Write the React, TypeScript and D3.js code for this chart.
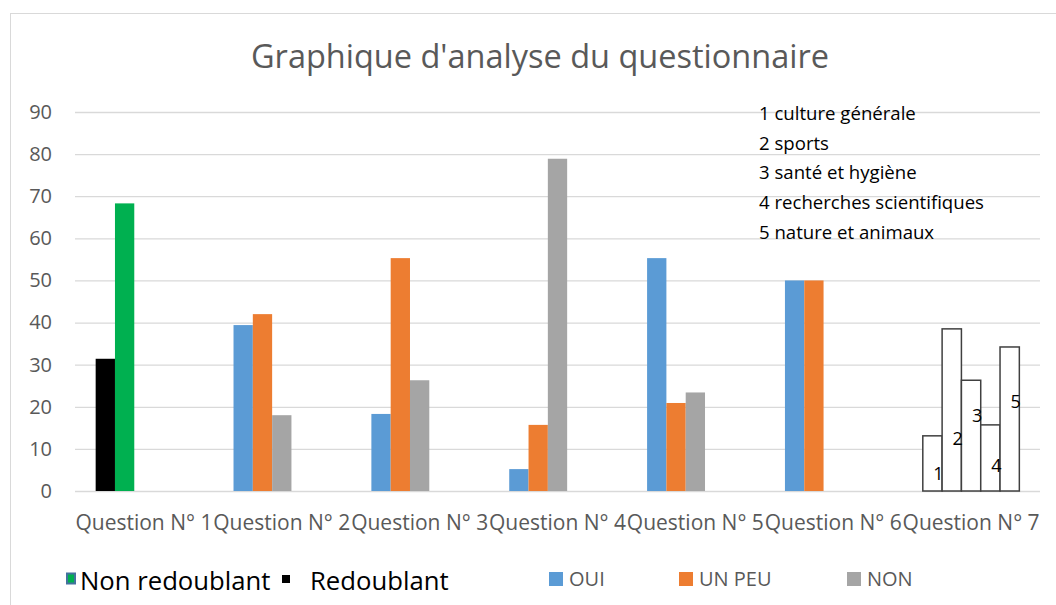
import { useRef, useEffect } from 'react'
import * as d3 from 'd3'

const categories = [
  'Question N° 1',
  'Question N° 2',
  'Question N° 3',
  'Question N° 4',
  'Question N° 5',
  'Question N° 6',
  'Question N° 7',
]

// Question 1: redoublant / non redoublant
const redoublant = [31.4]
const nonRedoublant = [68.3]

// Questions 2 to 6
const ouiValues = [39.4, 18.3, 5.2, 55.3, 50]
const unPeuValues = [42, 55.3, 15.7, 20.9, 50]
const nonValues = [18, 26.3, 78.9, 23.4, null]

// Question 7: themes
const q7Values = [13.1, 38.5, 26.3, 15.7, 34.2]
const q7LabelLevels = [2.6, 10.9, 16.4, 4.5, 19.7]
const q7Themes = [
  '1 culture générale',
  '2 sports',
  '3 santé et hygiène',
  '4 recherches scientifiques',
  '5 nature et animaux',
]

const yTicks = [0, 10, 20, 30, 40, 50, 60, 70, 80, 90]

const FONT = '"Open Sans", sans-serif'
const GREEN = '#00B050'
const BLUE = '#5B9BD5'
const ORANGE = '#ED7D31'
const GRAY = '#A5A5A5'
const TEXT = '#595959'

interface Bar {
  cat: string
  slot: number
  value: number
  fill: string
  stroke?: string
}

export default function App() {
  const svgRef = useRef<SVGSVGElement>(null)

  useEffect(() => {
    if (!svgRef.current) return
    const svg = d3.select(svgRef.current)
    svg.selectAll('*').remove()

    const W = 1056
    const H = 605
    const margin = { top: 112, right: 16, bottom: 114, left: 75 }
    const width = W - margin.left - margin.right
    const height = H - margin.top - margin.bottom

    // chart frame
    svg.append('rect')
      .attr('x', 10.5).attr('y', 13.5)
      .attr('width', W).attr('height', H)
      .attr('fill', '#fff').attr('stroke', '#D9D9D9')

    svg.append('text')
      .attr('x', 540).attr('y', 68)
      .attr('text-anchor', 'middle')
      .attr('font-family', FONT).attr('font-size', 32.5)
      .attr('fill', TEXT)
      .text("Graphique d'analyse du questionnaire")

    const g = svg.append('g').attr('transform', `translate(${margin.left},${margin.top})`)

    const x = d3.scaleBand<string>().domain(categories).range([0, width])
    const slot = d3.scaleBand<number>().domain([0, 1, 2, 3, 4]).range([0, x.bandwidth()]).paddingOuter(1.07)
    const y = d3.scaleLinear().domain([0, 90]).range([height, 0])

    // grid
    g.append('g')
      .call(d3.axisLeft(y).tickValues(yTicks).tickSize(-width).tickFormat(() => ''))
      .call((a) => {
        a.select('.domain').remove()
        a.selectAll('.tick line').attr('stroke', '#D9D9D9').attr('stroke-width', 1.3)
        a.selectAll('.tick text').remove()
      })

    // y labels
    g.append('g')
      .call(d3.axisLeft(y).tickValues(yTicks).tickSize(0).tickPadding(23))
      .call((a) => {
        a.select('.domain').remove()
        a.selectAll('.tick text')
          .attr('fill', TEXT).attr('font-size', 20).attr('font-family', FONT)
      })

    const bars: Bar[] = []
    redoublant.forEach((v) => bars.push({ cat: categories[0], slot: 0, value: v, fill: '#000' }))
    nonRedoublant.forEach((v) => bars.push({ cat: categories[0], slot: 1, value: v, fill: GREEN }))
    ouiValues.forEach((v, i) => bars.push({ cat: categories[i + 1], slot: 0, value: v, fill: BLUE }))
    unPeuValues.forEach((v, i) => bars.push({ cat: categories[i + 1], slot: 1, value: v, fill: ORANGE }))
    nonValues.forEach((v, i) => {
      if (v != null) bars.push({ cat: categories[i + 1], slot: 2, value: v, fill: GRAY })
    })
    q7Values.forEach((v, i) =>
      bars.push({ cat: categories[6], slot: i, value: v, fill: '#fff', stroke: '#404040' }),
    )

    g.selectAll('rect.bar')
      .data(bars)
      .join('rect')
      .attr('class', 'bar')
      .attr('x', (d) => x(d.cat)! + slot(d.slot)!)
      .attr('y', (d) => y(d.value))
      .attr('width', slot.bandwidth())
      .attr('height', (d) => height - y(d.value))
      .attr('fill', (d) => d.fill)
      .attr('stroke', (d) => d.stroke ?? 'none')
      .attr('stroke-width', 1.5)

    // numbers on question 7 bars
    g.selectAll('text.q7')
      .data(q7LabelLevels)
      .join('text')
      .attr('class', 'q7')
      .attr('x', (_, i) => x(categories[6])! + slot(i)! + slot.bandwidth() / 2 + 6)
      .attr('y', (d) => y(d))
      .attr('text-anchor', 'middle')
      .attr('font-family', FONT).attr('font-size', 18)
      .attr('fill', '#000')
      .text((_, i) => String(i + 1))

    // x labels
    g.append('g')
      .attr('transform', `translate(0,${height})`)
      .call(d3.axisBottom(x).tickSize(0).tickPadding(24))
      .call((a) => {
        a.select('.domain').remove()
        a.selectAll('.tick text')
          .attr('fill', TEXT).attr('font-size', 21).attr('font-family', FONT)
      })

    // theme legend for question 7
    svg.append('g')
      .selectAll('text')
      .data(q7Themes)
      .join('text')
      .attr('x', 759)
      .attr('y', (_, i) => 120 + i * 29.7)
      .attr('font-family', FONT).attr('font-size', 18.6)
      .attr('fill', '#000')
      .text((d) => d)

    // legend
    const lg = svg.append('g').attr('font-family', FONT)
    lg.append('rect').attr('x', 67).attr('y', 573.5).attr('width', 8).attr('height', 10)
      .attr('fill', GREEN).attr('stroke', '#44729E').attr('stroke-width', 2)
    lg.append('text').attr('x', 80).attr('y', 590).attr('font-size', 25.7).attr('fill', '#000')
      .text('Non redoublant')
    lg.append('rect').attr('x', 282).attr('y', 575).attr('width', 8).attr('height', 8).attr('fill', '#000')
    lg.append('text').attr('x', 310).attr('y', 590).attr('font-size', 25.7).attr('fill', '#000')
      .text('Redoublant')

    const smallLegend = [
      { label: 'OUI', color: BLUE, x: 549 },
      { label: 'UN PEU', color: ORANGE, x: 679 },
      { label: 'NON', color: GRAY, x: 847 },
    ]
    smallLegend.forEach((d) => {
      lg.append('rect').attr('x', d.x).attr('y', 572).attr('width', 14).attr('height', 14).attr('fill', d.color)
      lg.append('text').attr('x', d.x + 20).attr('y', 586).attr('font-size', 20).attr('fill', TEXT).text(d.label)
    })
  }, [])

  return (
    <svg
      ref={svgRef}
      width={1056}
      height={605}
      style={{ position: 'absolute', left: 0, top: 0, display: 'block' }}
    />
  )
}
